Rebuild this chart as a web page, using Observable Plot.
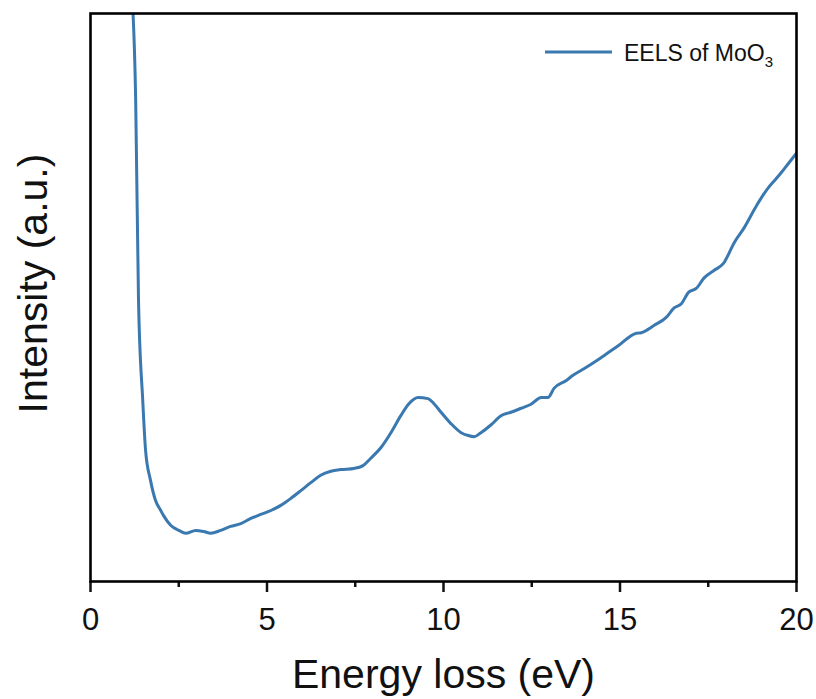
<!DOCTYPE html>
<html>
<head>
<meta charset="utf-8">
<script src="https://cdn.jsdelivr.net/npm/d3@7"></script>
<script src="https://cdn.jsdelivr.net/npm/@observablehq/plot@0.6"></script>
<style>
  html, body { margin: 0; padding: 0; background: #fff; }
  #chart svg { display: block; }
</style>
</head>
<body>
<div id="chart"></div>
<script>
// EELS low-loss spectrum of MoO3 (intensity in arbitrary units)
const energy = [
  1.17, 1.28, 1.36, 1.48, 1.56, 1.70, 1.84, 1.99, 2.07, 2.27, 2.50, 2.70, 2.98, 3.21, 3.40,
  3.69, 3.97, 4.26, 4.54, 4.82, 5.11, 5.39, 5.67, 5.96, 6.24, 6.52, 6.81, 7.09, 7.46, 7.72,
  7.94, 8.23, 8.51, 8.79, 9.02, 9.28, 9.56, 9.73, 9.93, 10.21, 10.50, 10.70, 10.87, 11.06, 11.35,
  11.63, 11.91, 12.20, 12.48, 12.77, 12.96, 13.13, 13.48, 13.67, 13.99, 14.27, 14.67, 14.95, 15.46, 15.60,
  15.97, 16.31, 16.54, 16.74, 16.94, 17.16, 17.39, 17.67, 17.93, 18.24, 18.52, 18.87, 19.21, 19.38, 19.57,
  19.77, 20.0
];
const intensity = [
  104, 84.7, 49.5, 31.9, 23.1, 17.8, 14.3, 12.5, 11.6, 9.9, 9.0, 8.5, 9.0, 8.8, 8.5,
  9.0, 9.7, 10.2, 11.1, 11.8, 12.5, 13.4, 14.6, 16.0, 17.4, 18.7, 19.4, 19.7, 19.9, 20.4,
  21.7, 23.6, 26.2, 29.2, 31.3, 32.4, 32.2, 31.3, 29.8, 27.8, 26.2, 25.7, 25.5, 26.2, 27.6,
  29.2, 29.8, 30.5, 31.2, 32.4, 32.4, 34.0, 35.4, 36.3, 37.5, 38.6, 40.3, 41.5, 43.7, 43.8,
  45.1, 46.5, 48.2, 48.9, 50.9, 51.6, 53.5, 54.8, 56.0, 59.7, 62.3, 66.2, 69.4, 70.6, 72.0,
  73.6, 75.4
];
const majorTicks = [0, 5, 10, 15, 20];
const minorTicks = [2.5, 7.5, 12.5, 17.5];
const seriesName = "EELS of MoO";
const seriesSub = "3";
const xTitle = "Energy loss (eV)";
const yTitle = "Intensity (a.u.)";

const data = energy.map((e, i) => ({energy: e, intensity: intensity[i]}));

const FONT = "'Liberation Sans', Arial, Helvetica, sans-serif";
const BLUE = "#3a78b0";

const chart = Plot.plot({
  width: 816,
  height: 699,
  marginLeft: 90,
  marginRight: 20,
  marginTop: 13,
  marginBottom: 118,
  style: {fontFamily: FONT, color: "#111", background: "#fff"},
  x: {domain: [0, 20]},
  y: {domain: [0, 100], axis: null},
  marks: [
    Plot.line(data, {x: "energy", y: "intensity", stroke: BLUE, strokeWidth: 3, clip: true, curve: "monotone-x"}),
    Plot.axisX({ticks: minorTicks, tickSize: 6, strokeWidth: 2.5, text: null, label: null}),
    Plot.axisX({ticks: majorTicks, tickSize: 11, strokeWidth: 2.5, tickPadding: 15, fontSize: 31, label: null}),
    Plot.frame({stroke: "#000", strokeWidth: 2.6}),
    Plot.text([xTitle], {text: d => d, frameAnchor: "bottom", textAnchor: "middle", dy: 106, fontSize: 41, fill: "#111"}),
    Plot.text([yTitle], {text: d => d, frameAnchor: "left", textAnchor: "middle", dx: -57, dy: -14, rotate: -90, fontSize: 41, fill: "#111"})
  ]
});

// Legend entry in the upper right corner of the frame
const svg = d3.select(chart);
const legend = svg.append("g")
  .attr("font-family", FONT)
  .attr("text-anchor", "start");
legend.append("line")
  .attr("x1", 545).attr("x2", 612).attr("y1", 52).attr("y2", 52)
  .attr("stroke", BLUE).attr("stroke-width", 3);
const label = legend.append("text")
  .attr("x", 624).attr("y", 61)
  .attr("font-size", 23).attr("fill", "#111");
label.append("tspan").text(seriesName);
label.append("tspan").attr("font-size", 15).attr("dy", 6).text(seriesSub);

document.getElementById("chart").appendChild(chart);
</script>
</body>
</html>
